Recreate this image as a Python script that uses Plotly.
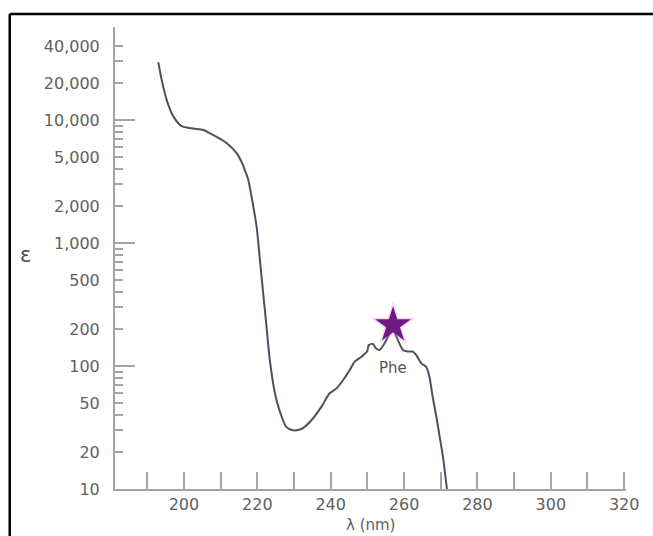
import plotly.graph_objects as go
import math

# Data
wavelength_nm = [193.0, 193.9, 195.3, 197.1, 199.4, 202.1, 205.3, 207.1, 208.9, 211.6,
                 214.3, 216.1, 216.6, 217.5, 218.4, 219.8, 220.7, 221.6, 222.5, 223.4,
                 224.8, 226.1, 227.9, 229.7, 231.6, 232.9, 235.2, 237.5, 239.7, 241.6,
                 243.4, 245.2, 246.5, 248.4, 249.9, 250.4, 251.5, 252.4, 253.3, 254.7,
                 255.6, 257.0, 258.3, 259.7, 261.0, 262.4, 263.3, 264.7, 266.0, 266.9,
                 267.8, 268.8, 269.7, 270.6, 271.5, 271.7]
epsilon = [29500, 21400, 14500, 10700, 8900, 8550, 8300, 7800, 7300, 6500,
           5400, 4300, 3900, 3300, 2400, 1360, 730, 390, 210, 112,
           60, 43, 32, 30, 30.5, 32, 37.6, 46.7, 60, 65.8,
           76.9, 92.7, 108, 119, 131, 148, 151, 139, 135, 153,
           173, 196, 163, 135, 131, 131, 123, 105, 98.6, 81.8,
           56.2, 38.7, 26.6, 18.3, 11.1, 10]

star_x = [257.0]
star_y = [215]
label_text = "Phe"
label_x = 257.0
label_y = 96

y_tickvals = [10, 20, 50, 100, 200, 500, 1000, 2000, 5000, 10000, 20000, 40000]
y_ticktext = ["10", "20", "50", "100", "200", "500", "1,000", "2,000", "5,000",
              "10,000", "20,000", "40,000"]
y_minor = [30, 40, 60, 70, 80, 90, 300, 400, 600, 700, 800, 900,
           3000, 4000, 6000, 7000, 8000, 9000, 30000]
y_decades = [10, 100, 1000, 10000]

AX = "#a4a4a4"
TXT = "#606060"
FONT = "DejaVu Sans"

fig = go.Figure()
fig.add_trace(go.Scatter(x=wavelength_nm, y=epsilon, mode="lines",
                         line=dict(color="#524e60", width=2, shape="spline", smoothing=0.8),
                         hoverinfo="skip", showlegend=False))
# glow + star
fig.add_trace(go.Scatter(x=star_x, y=star_y, mode="markers",
                         marker=dict(symbol="star", size=34, color="rgba(215,140,230,0.35)",
                                     line=dict(width=0)),
                         hoverinfo="skip", showlegend=False))
fig.add_trace(go.Scatter(x=star_x, y=star_y, mode="markers",
                         marker=dict(symbol="star", size=27, color="#6e1a80",
                                     line=dict(width=0)),
                         hoverinfo="skip", showlegend=False))
# invisible trace for the overlay axis carrying the long decade ticks
fig.add_trace(go.Scatter(x=[250], y=[100], mode="markers", yaxis="y2",
                         marker=dict(opacity=0), hoverinfo="skip", showlegend=False))

fig.add_annotation(x=label_x, y=math.log10(label_y), xref="x", yref="y", text=label_text,
                   xanchor="center", yanchor="middle",
                   showarrow=False, font=dict(family=FONT, size=15, color="#555555"))
fig.add_annotation(x=-0.1745, y=0.506, xref="paper", yref="paper", text="ε",
                   xanchor="center", yanchor="middle",
                   showarrow=False, font=dict(family=FONT, size=21, color="#505050"))
fig.add_annotation(x=0.5, y=-0.078, xref="paper", yref="paper", text="λ (nm)",
                   xanchor="center", yanchor="middle",
                   showarrow=False, font=dict(family=FONT, size=15, color=TXT))

# outer frame (top and left edges visible)
fig.add_shape(type="line", xref="paper", yref="paper", x0=-0.206, x1=1.2, y0=1.028, y1=1.028,
              line=dict(color="black", width=2.5))
fig.add_shape(type="line", xref="paper", yref="paper", x0=-0.206, x1=-0.206, y0=1.028, y1=-0.2,
              line=dict(color="black", width=2.5))

fig.update_layout(
    width=653, height=536,
    margin=dict(l=115, r=27, t=27, b=47),
    paper_bgcolor="white", plot_bgcolor="white",
    xaxis=dict(range=[181.2, 320.5], showgrid=False, zeroline=False,
               showline=True, linecolor=AX, linewidth=2,
               ticks="inside", ticklen=17, tickwidth=2, tickcolor=AX,
               tickmode="linear", tick0=200, dtick=20,
               minor=dict(ticks="inside", ticklen=17, tickwidth=2, tickcolor=AX,
                          tickmode="linear", tick0=190, dtick=10),
               ticklabelstandoff=0,
               tickfont=dict(family=FONT, size=16, color=TXT)),
    yaxis=dict(type="log", range=[1, 4.756], showgrid=False, zeroline=False,
               showline=True, linecolor=AX, linewidth=2,
               ticks="inside", ticklen=8, tickwidth=1.5, tickcolor=AX,
               tickmode="array", tickvals=y_tickvals, ticktext=y_ticktext,
               minor=dict(ticks="inside", ticklen=8, tickwidth=1.5, tickcolor=AX,
                          tickmode="array", tickvals=y_minor),
               ticklabelstandoff=10,
               tickfont=dict(family=FONT, size=16, color=TXT)),
    yaxis2=dict(type="log", range=[1, 4.756], overlaying="y", side="left", anchor="x",
                showgrid=False, zeroline=False, showline=False,
                ticks="inside", ticklen=20, tickwidth=1.5, tickcolor=AX,
                tickmode="array", tickvals=y_decades, showticklabels=False),
)

fig.write_html("out.html")
